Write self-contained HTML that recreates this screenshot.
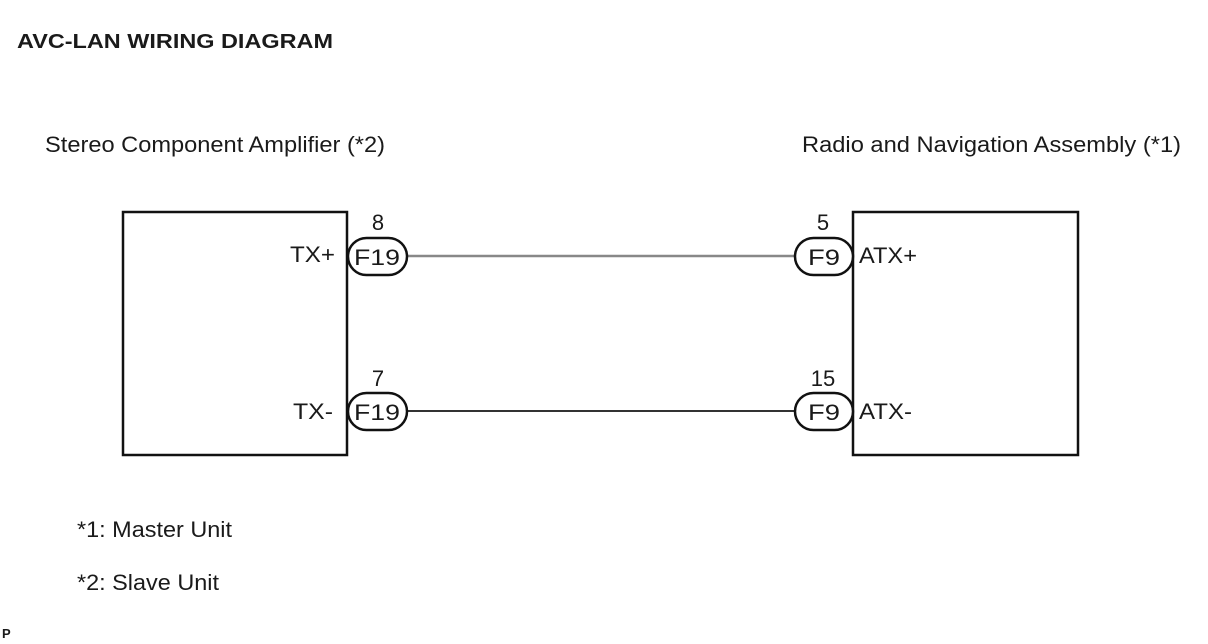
<!DOCTYPE html>
<html><head><meta charset="utf-8"><style>
html,body{margin:0;padding:0;background:#fff;}
svg{display:block;}
text{font-family:"Liberation Sans",Arial,sans-serif;fill:#1a1a1a;}
</style></head><body>
<svg width="1208" height="644" viewBox="0 0 1208 644" xmlns="http://www.w3.org/2000/svg">
<text x="17" y="48" font-size="20" font-weight="bold" textLength="316" lengthAdjust="spacingAndGlyphs">AVC-LAN WIRING DIAGRAM</text>
<text x="45" y="152" font-size="22" textLength="340" lengthAdjust="spacingAndGlyphs">Stereo Component Amplifier (*2)</text>
<text x="802" y="152" font-size="22" textLength="379" lengthAdjust="spacingAndGlyphs">Radio and Navigation Assembly (*1)</text>
<rect x="123" y="212" width="224" height="243" fill="none" stroke="#111" stroke-width="2.5"/>
<rect x="853" y="212" width="225" height="243" fill="none" stroke="#111" stroke-width="2.5"/>
<line x1="407" y1="256" x2="794" y2="256" stroke="#888" stroke-width="2.5"/>
<line x1="407" y1="411" x2="794" y2="411" stroke="#333" stroke-width="2"/>
<g fill="#fff" stroke="#111" stroke-width="2.5">
<rect x="348" y="238" width="59" height="37" rx="18.5"/>
<rect x="348" y="393" width="59" height="37" rx="18.5"/>
<rect x="795" y="238" width="58" height="37" rx="18.5"/>
<rect x="795" y="393" width="58" height="37" rx="18.5"/>
</g>
<g font-size="22">
<text x="354" y="265" textLength="46" lengthAdjust="spacingAndGlyphs">F19</text>
<text x="354" y="420" textLength="46" lengthAdjust="spacingAndGlyphs">F19</text>
<text x="808" y="265" textLength="32" lengthAdjust="spacingAndGlyphs">F9</text>
<text x="808" y="420" textLength="32" lengthAdjust="spacingAndGlyphs">F9</text>
<text x="378" y="230" text-anchor="middle">8</text>
<text x="378" y="386" text-anchor="middle">7</text>
<text x="823" y="230" text-anchor="middle">5</text>
<text x="823" y="386" text-anchor="middle">15</text>
<text x="290" y="262" textLength="45" lengthAdjust="spacingAndGlyphs">TX+</text>
<text x="293" y="419" textLength="40" lengthAdjust="spacingAndGlyphs">TX-</text>
<text x="859" y="263" textLength="58" lengthAdjust="spacingAndGlyphs">ATX+</text>
<text x="859" y="419" textLength="53" lengthAdjust="spacingAndGlyphs">ATX-</text>
<text x="77" y="537" textLength="155" lengthAdjust="spacingAndGlyphs">*1: Master Unit</text>
<text x="77" y="590" textLength="142" lengthAdjust="spacingAndGlyphs">*2: Slave Unit</text>
</g>
<text x="2" y="638" font-size="13" font-weight="bold">P</text>
</svg>
</body></html>
